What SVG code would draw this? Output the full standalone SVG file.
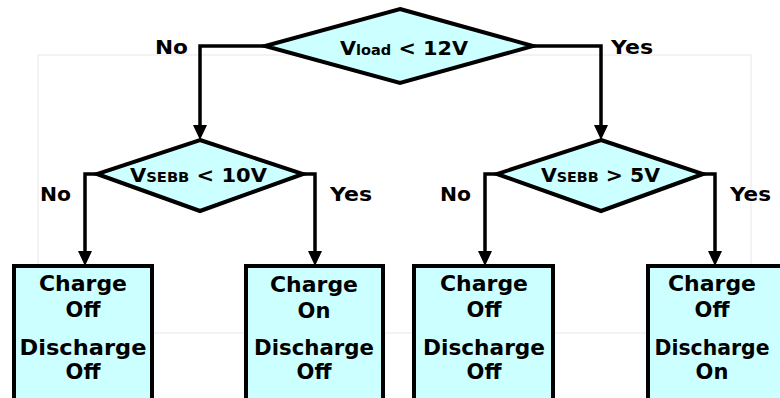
<svg xmlns="http://www.w3.org/2000/svg" width="780" height="398" viewBox="0 0 780 398">
<style>
.shape{fill:#ccffff;stroke:#000;stroke-width:4;stroke-linejoin:miter}
.conn{fill:none;stroke:#000;stroke-width:3.5}
text{font-family:"DejaVu Sans","Verdana",sans-serif;font-weight:bold;fill:#000}
.bt{font-size:21px;text-anchor:middle}
.lbl{font-size:20px}
.dt{font-size:20px}
.sub{font-size:14px}
</style>
<rect x="38" y="55" width="713" height="278" fill="none" stroke="#f3f3f3" stroke-width="2"/>
<g id="connectors">
<path class="conn" d="M265,46 H200 V126"/>
<path class="conn" d="M533,46 H601 V126"/>
<path class="conn" d="M97,174 H85 V252"/>
<path class="conn" d="M303,174 H315 V252"/>
<path class="conn" d="M497,174 H485 V252"/>
<path class="conn" d="M703,174 H715 V252"/>
<polygon points="193,125 207,125 200,140" fill="#000"/>
<polygon points="594,125 608,125 601,140" fill="#000"/>
<polygon points="78,251 92,251 85,266" fill="#000"/>
<polygon points="308,251 322,251 315,266" fill="#000"/>
<polygon points="478,251 492,251 485,266" fill="#000"/>
<polygon points="708,251 722,251 715,266" fill="#000"/>
<text class="lbl" x="155" y="54" textLength="33" lengthAdjust="spacingAndGlyphs">No</text>
<text class="lbl" x="611" y="54" textLength="42" lengthAdjust="spacingAndGlyphs">Yes</text>
<text class="lbl" x="40" y="201" textLength="31" lengthAdjust="spacingAndGlyphs">No</text>
<text class="lbl" x="330" y="201" textLength="42" lengthAdjust="spacingAndGlyphs">Yes</text>
<text class="lbl" x="440" y="201" textLength="31" lengthAdjust="spacingAndGlyphs">No</text>
<text class="lbl" x="730" y="201" textLength="41" lengthAdjust="spacingAndGlyphs">Yes</text>
</g>
<g id="d1">
<polygon class="shape" points="400,9 533,46 400,83 265,46"/>
<text class="dt" x="340" y="55" textLength="128" lengthAdjust="spacingAndGlyphs">V<tspan class="sub">load</tspan> &lt; 12V</text>
</g>
<g id="d2">
<polygon class="shape" points="200,140 303,174 200,211 97,174"/>
<text class="dt" x="130" y="182" textLength="137" lengthAdjust="spacingAndGlyphs">V<tspan class="sub">SEBB</tspan> &lt; 10V</text>
</g>
<g id="d3">
<polygon class="shape" points="601,140 703,174 601,211 497,174"/>
<text class="dt" x="541" y="182" textLength="119" lengthAdjust="spacingAndGlyphs">V<tspan class="sub">SEBB</tspan> &gt; 5V</text>
</g>
<g id="b1">
<rect class="shape" x="14" y="266" width="138" height="140"/>
<text class="bt" x="83" y="291" textLength="88" lengthAdjust="spacingAndGlyphs">Charge</text>
<text class="bt" x="83" y="317">Off</text>
<text class="bt" x="83" y="355" textLength="127" lengthAdjust="spacingAndGlyphs">Discharge</text>
<text class="bt" x="83" y="379">Off</text>
</g>
<g id="b2">
<rect class="shape" x="246" y="266" width="137" height="140"/>
<text class="bt" x="314" y="292" textLength="88" lengthAdjust="spacingAndGlyphs">Charge</text>
<text class="bt" x="314" y="318">On</text>
<text class="bt" x="314" y="355" textLength="120" lengthAdjust="spacingAndGlyphs">Discharge</text>
<text class="bt" x="314" y="379">Off</text>
</g>
<g id="b3">
<rect class="shape" x="414" y="266" width="139" height="140"/>
<text class="bt" x="484" y="291" textLength="88" lengthAdjust="spacingAndGlyphs">Charge</text>
<text class="bt" x="484" y="317">Off</text>
<text class="bt" x="484" y="355" textLength="122" lengthAdjust="spacingAndGlyphs">Discharge</text>
<text class="bt" x="484" y="379">Off</text>
</g>
<g id="b4">
<rect class="shape" x="648" y="266" width="140" height="140"/>
<text class="bt" x="712" y="291" textLength="88" lengthAdjust="spacingAndGlyphs">Charge</text>
<text class="bt" x="712" y="317">Off</text>
<text class="bt" x="712" y="355" textLength="115" lengthAdjust="spacingAndGlyphs">Discharge</text>
<text class="bt" x="712" y="379">On</text>
</g>
</svg>
